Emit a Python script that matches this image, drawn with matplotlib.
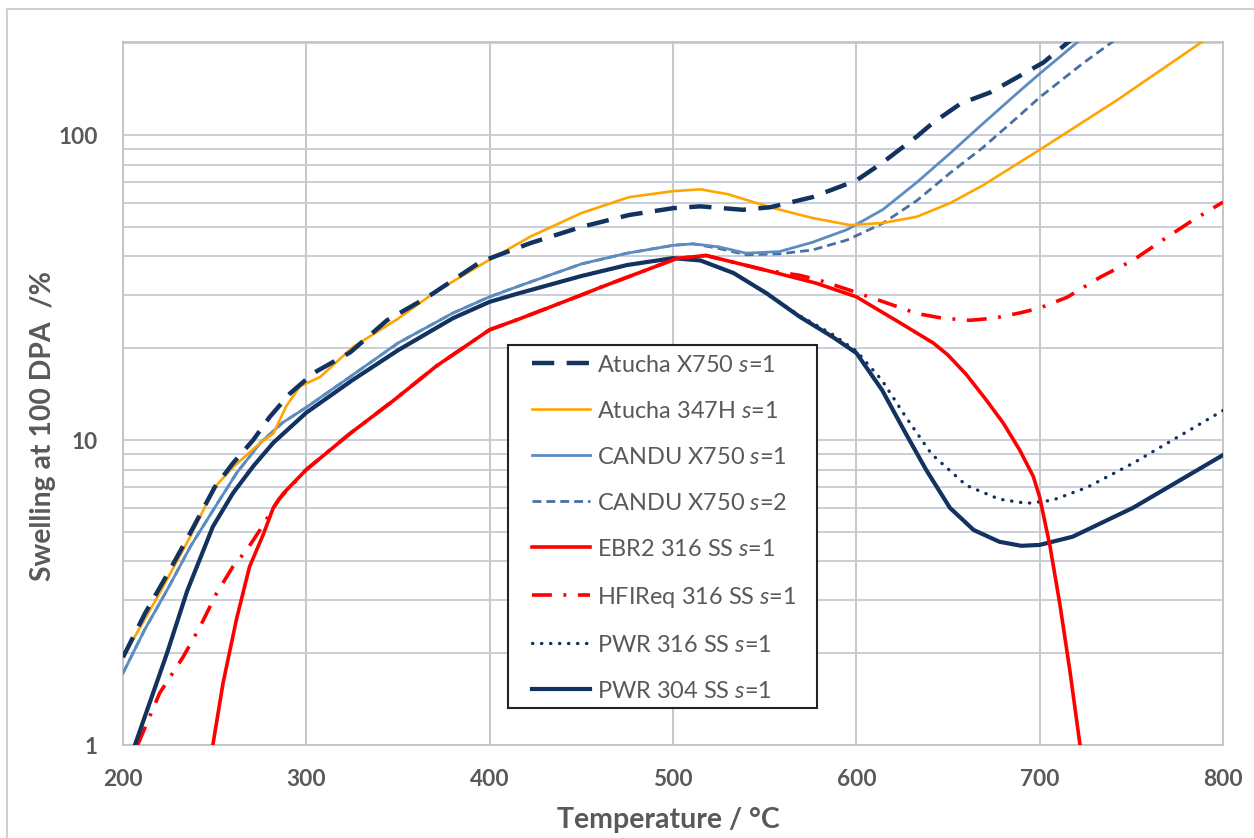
import matplotlib
matplotlib.use("Agg")
import matplotlib.pyplot as plt
from matplotlib.lines import Line2D
from matplotlib.patches import Rectangle
from matplotlib.ticker import LogLocator, NullFormatter, FixedLocator

plt.rcParams['font.family'] = ['Lato', 'DejaVu Sans']
plt.rcParams['mathtext.fontset'] = 'custom'
plt.rcParams['mathtext.rm'] = 'Lato'
plt.rcParams['mathtext.it'] = 'Lato:italic'

# --- data (temperature in C, swelling in %) ---
atx_T = [200, 212, 225, 237, 250, 260, 271, 280, 291, 304, 324, 344, 366, 395, 422,
         450, 476, 500, 515, 538, 553, 576, 600, 614, 633, 642, 657, 673, 688, 702, 717]
atx_y = [1.94, 2.7, 3.7, 5.0, 7.0, 8.4, 10.0, 11.9, 14.2, 16.6, 19.4, 24.7, 29.4, 38.4, 44.2,
         50, 54.7, 57.6, 58.4, 56.9, 58, 62.6, 71, 81, 99, 110, 127, 138, 155, 173, 205]

ath_T = [200, 220, 236.5, 250, 260, 275, 282, 289, 296.5, 307.5, 325.5, 350, 370, 395, 422,
         450, 476, 500, 515, 530, 553, 576, 596.5, 614.5, 633, 651, 669, 700, 742, 790]
ath_y = [1.94, 3.15, 4.8, 7.0, 8.15, 9.8, 10.5, 12.9, 15.0, 16.1, 20.2, 25.0, 30.5, 37.5, 46.4,
         55.5, 62.6, 65.5, 66.4, 64, 58, 53.5, 50.7, 51.5, 54, 59.8, 68.4, 89.5, 130, 205]

cx1_T = [200, 212, 225, 237, 250, 262, 275, 287, 300, 325, 350, 380, 400, 416, 450, 475,
         500, 511, 525, 540, 558, 576, 595, 614.5, 633, 651, 669, 687.6, 700, 722]
cx1_y = [1.72, 2.4, 3.3, 4.5, 6.0, 7.8, 9.8, 11.4, 12.8, 16.3, 20.8, 26.1, 29.5, 32.0, 37.8, 41.0,
         43.5, 44, 43, 41, 41.5, 44.5, 49, 57, 70, 87, 109, 137, 159, 205]

cx2_T = [200, 212, 225, 237, 250, 262, 275, 287, 300, 325, 350, 380, 400, 416, 450, 475,
         500, 511, 525, 540, 558, 576, 595, 614.5, 633, 651, 669, 687.6, 700, 723.6, 741]
cx2_y = [1.72, 2.4, 3.3, 4.5, 6.0, 7.8, 9.8, 11.4, 12.8, 16.3, 20.8, 26.1, 29.5, 32.0, 37.8, 41.0,
         43.5, 44, 42.5, 40.5, 40.8, 42, 45.3, 51.4, 61, 75, 91, 114, 133, 172, 205]

ebr_T = [249, 254.6, 262, 269, 276.5, 282, 287.6, 300, 323.8, 347, 371, 400, 416.5,
         450, 460, 502, 518, 551, 578, 600, 624, 642, 650, 660, 671, 680, 689, 696.5, 700,
         705.6, 711, 716.5, 722]
ebr_y = [1.0, 1.6, 2.6, 3.84, 4.9, 6.0, 6.7, 8.0, 10.5, 13.4, 17.5, 23, 25.0,
         29.9, 31.6, 39.4, 40.3, 36, 32.7, 29.5, 24.2, 20.8, 19.0, 16.4, 13.5, 11.4, 9.3, 7.6, 6.5,
         4.5, 2.9, 1.75, 1.0]

hfi_T = [208, 220, 232.7, 242, 251, 260, 267.5, 274.7, 285, 300, 323.8, 347, 371, 400,
         416.5, 450, 460, 502, 518, 551, 569, 580, 596.5, 620, 633, 647, 662, 675, 689, 700,
         715, 733, 751, 769.5, 783.6, 800]
hfi_y = [1.0, 1.48, 1.94, 2.44, 3.14, 3.85, 4.36, 5.07, 6.4, 8.0, 10.5, 13.4, 17.5, 23,
         25.0, 29.9, 31.6, 39.4, 40.3, 36, 34.7, 33.4, 31, 27.7, 26, 25.1, 24.7, 25.1, 26.1, 27.1,
         29.4, 34.2, 38.9, 46.3, 52.6, 60.3]

p304_T = [206.5, 215, 224, 235, 249, 260, 271, 282, 300, 325, 350, 380, 400, 416, 450, 475,
          500, 515, 533, 551, 569, 587, 600, 614, 627, 638, 651, 664, 678, 690, 700, 718,
          751, 800]
p304_y = [1.0, 1.4, 2.0, 3.2, 5.2, 6.7, 8.2, 9.8, 12.3, 15.7, 19.7, 25.1, 28.4, 30.3, 34.5, 37.5,
          39.5, 38.8, 35.3, 30.3, 25.4, 21.8, 19.3, 14.6, 10.5, 8.0, 6.0, 5.07, 4.64, 4.5, 4.53,
          4.82, 6.0, 8.93]

p316_T = [206.5, 215, 224, 235, 249, 260, 271, 282, 300, 325, 350, 380, 400, 416, 450, 475,
          500, 515, 533, 551, 569, 587, 600, 614, 627, 641, 660, 678, 693, 707, 726, 751,
          770, 800]
p316_y = [1.0, 1.4, 2.0, 3.2, 5.2, 6.7, 8.2, 9.8, 12.3, 15.7, 19.7, 25.1, 28.4, 30.3, 34.5, 37.5,
          39.5, 38.8, 35.3, 30.3, 25.6, 22.2, 19.6, 15.7, 11.9, 9.0, 7.1, 6.4, 6.2, 6.35, 7.0,
          8.4, 9.8, 12.5]

navy = '#12325F'
grey_txt = '#595959'
W, H = 1254, 838

fig = plt.figure(figsize=(12.54, 8.38), dpi=100)
ax = fig.add_axes([123 / W, 1 - 745 / H, 1100 / W, 703 / H])
renderer = fig.canvas.get_renderer()


def fit_text(t, target_px, along='w'):
    # scale a text's font size so its drawn extent matches the reference
    for _ in range(3):
        bb = t.get_window_extent(renderer)
        cur = bb.width if along == 'w' else bb.height
        t.set_fontsize(t.get_fontsize() * target_px / cur)
    return t.get_fontsize()


ax.plot(p316_T, p316_y, color=navy, lw=2.4, linestyle=(0, (0.1, 2.6)),
        dash_capstyle='round', label='PWR 316 SS $s$=1', zorder=3)
ax.plot(p304_T, p304_y, color=navy, lw=3.0, label='PWR 304 SS $s$=1', zorder=4)
ax.plot(hfi_T, hfi_y, color='#FF0000', lw=2.6, linestyle=(0, (5.5, 3.2, 0.8, 3.2)),
        label='HFIReq 316 SS $s$=1', zorder=3)
ax.plot(ebr_T, ebr_y, color='#FF0000', lw=2.6, label='EBR2 316 SS $s$=1', zorder=4)
ax.plot(cx2_T, cx2_y, color='#4A6FA5', lw=2.0, linestyle=(0, (3.2, 1.8)),
        label='CANDU X750 $s$=2', zorder=5)
ax.plot(cx1_T, cx1_y, color='#5B8CC2', lw=2.0, label='CANDU X750 $s$=1', zorder=5)
ax.plot(ath_T, ath_y, color='#FFA500', lw=1.9, label='Atucha 347H $s$=1', zorder=6)
ax.plot(atx_T, atx_y, color=navy, lw=3.2, linestyle=(0, (5.0, 2.8)),
        label='Atucha X750 $s$=1', zorder=6)

ax.set_xlim(200, 800)
ax.set_yscale('log')
ax.set_ylim(1, 202)
ax.xaxis.set_major_locator(FixedLocator([200, 300, 400, 500, 600, 700, 800]))
ax.yaxis.set_minor_locator(LogLocator(base=10, subs=range(2, 10)))
ax.yaxis.set_minor_formatter(NullFormatter())
ax.set_yticks([1, 10, 100])
ax.set_yticklabels(['1', '10', '100'])

ax.grid(True, axis='x', which='major', color='#C3C3C3', lw=1.3)
ax.grid(True, axis='y', which='both', color='#C6CAD6', lw=1.3)
ax.set_axisbelow(True)
for s in ax.spines.values():
    s.set_color('#C3C3C3')
    s.set_linewidth(1.3)

# tick label size: "100" is about 39 px wide in the reference
probe = fig.text(0.5, 0.5, '100', fontweight='bold', fontsize=16)
tick_fs = fit_text(probe, 39)
probe.remove()
ax.tick_params(which='both', length=0)
ax.tick_params(axis='x', pad=17.5, labelsize=tick_fs, labelcolor=grey_txt)
ax.tick_params(axis='y', pad=18, labelsize=tick_fs, labelcolor=grey_txt)
for lbl in ax.get_xticklabels() + ax.get_yticklabels():
    lbl.set_fontweight('bold')

xl = fig.text(668 / W, 1 - 820 / H, 'Temperature / °C', ha='center', va='center',
              fontsize=20, fontweight='bold', color=grey_txt)
fit_text(xl, 223, 'w')
yl = fig.text(43 / W, 1 - 426 / H, 'Swelling at 100 DPA  /%', ha='center', va='center',
              rotation=90, fontsize=20, fontweight='bold', color=grey_txt)
fit_text(yl, 309, 'h')

# legend: text "Atucha X750 s=1" is ~178 px wide, rows 46 px apart
probe = fig.text(0.5, 0.5, 'Atucha X750 $s$=1', fontsize=16)
leg_fs = fit_text(probe, 178)
text_h = probe.get_window_extent(renderer).height
probe.remove()
fs_px = leg_fs * 100 / 72

handles, labels = ax.get_legend_handles_labels()
order = ['Atucha X750 $s$=1', 'Atucha 347H $s$=1', 'CANDU X750 $s$=1', 'CANDU X750 $s$=2',
         'EBR2 316 SS $s$=1', 'HFIReq 316 SS $s$=1', 'PWR 316 SS $s$=1', 'PWR 304 SS $s$=1']
hmap = dict(zip(labels, handles))
leg = ax.legend([hmap[k] for k in order], order, loc='upper left',
                bbox_to_anchor=(532 / W, 1 - (365 - text_h / 2) / H),
                bbox_transform=fig.transFigure, fontsize=leg_fs, frameon=False,
                handlelength=58 / fs_px, handletextpad=7 / fs_px,
                labelspacing=(46 - text_h) / fs_px, borderpad=0, borderaxespad=0)
leg.set_zorder(9)
for t in leg.get_texts():
    t.set_color(grey_txt)
ax.add_patch(Rectangle((508 / W, 1 - 708 / H), (817 - 508) / W, (708 - 345) / H,
                       transform=fig.transFigure, facecolor='white', edgecolor='#222222',
                       lw=1.5, zorder=8, clip_on=False))

# light outer frame of the original picture
fig.add_artist(Line2D([7 / W, 7 / W], [0, 1 - 9 / H], transform=fig.transFigure,
                      color='#D0D0D0', lw=1.5))
fig.add_artist(Line2D([7 / W, 1], [1 - 9 / H, 1 - 9 / H], transform=fig.transFigure,
                      color='#D0D0D0', lw=1.5))

fig.savefig('out.png', dpi=100)
